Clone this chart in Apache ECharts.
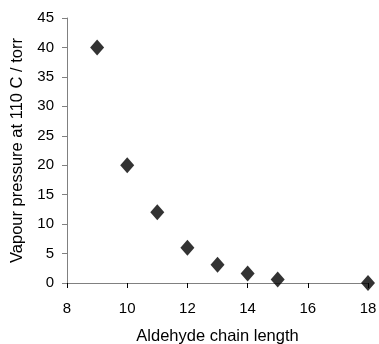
<!DOCTYPE html>
<html>
<head>
<meta charset="utf-8">
<script src="https://cdn.jsdelivr.net/npm/echarts@6/dist/echarts.min.js"></script>
<style>
  html, body { margin: 0; padding: 0; background: #fff; }
  #chart { width: 379px; height: 344px; }
</style>
</head>
<body>
<div id="chart"></div>
<script>
// chain length vs vapour pressure (torr)
const chainLength = [9, 10, 11, 12, 13, 14, 15, 18];
const vapourPressure = [40, 20, 12, 6, 3.1, 1.6, 0.6, 0];

const points = chainLength.map((x, i) => [x, vapourPressure[i]]);

const myChart = echarts.init(document.getElementById("chart"));
const tickFont = { fontFamily: "Liberation Sans, Arial", fontSize: 15, color: "#000" };
const titleFont = { fontFamily: "Liberation Sans, Arial", fontSize: 16.5, color: "#000" };

myChart.setOption({
  animation: false,
  grid: { left: 67, right: 11, top: 18, bottom: 61, containLabel: false, outerBoundsMode: "none" },
  xAxis: {
    type: "value",
    min: 8,
    max: 18,
    interval: 2,
    name: "Aldehyde chain length",
    nameLocation: "middle",
    nameGap: 45,
    nameTextStyle: titleFont,
    axisLine: { onZero: false, lineStyle: { color: "#808080", width: 1 } },
    axisTick: { show: true, length: 5, lineStyle: { color: "#000" } },
    axisLabel: Object.assign({ margin: 18 }, tickFont),
    splitLine: { show: false }
  },
  yAxis: {
    type: "value",
    min: 0,
    max: 45,
    interval: 5,
    name: "Vapour pressure at 110 C / torr",
    nameLocation: "middle",
    nameGap: 41,
    nameTextStyle: titleFont,
    axisLine: { show: true, lineStyle: { color: "#808080", width: 1 } },
    axisTick: { show: true, length: 5, lineStyle: { color: "#808080" } },
    axisLabel: Object.assign({ margin: 13 }, tickFont),
    splitLine: { show: false }
  },
  series: [{
    type: "scatter",
    data: points,
    symbol: "diamond",
    symbolSize: [14, 16],
    itemStyle: { color: "#000" }
  }]
});
</script>
</body>
</html>
